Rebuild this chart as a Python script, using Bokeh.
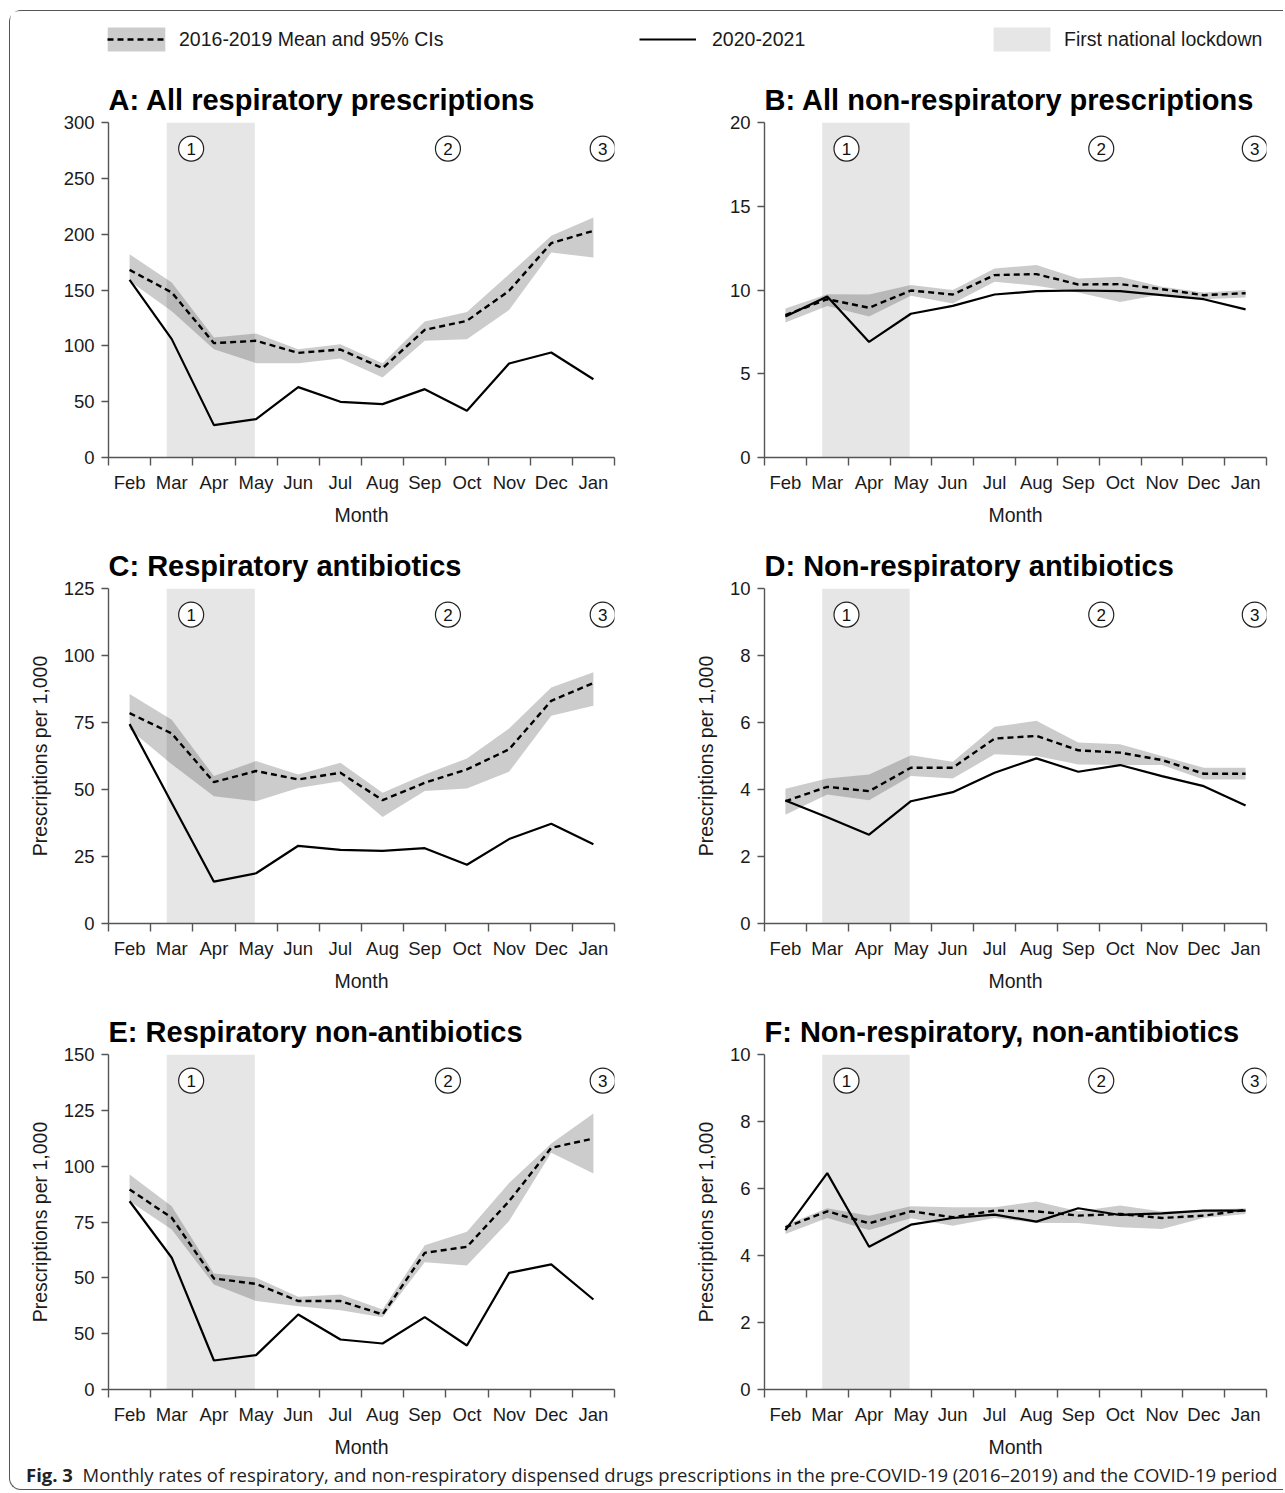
from bokeh.plotting import figure
from bokeh.models import Range1d, FixedTicker, BoxAnnotation, Legend, LegendItem, Div
from bokeh.layouts import column, row
from bokeh.embed import file_html
from bokeh.resources import INLINE
from bokeh.core.properties import value

# ---------------- data ----------------
months = ["Feb", "Mar", "Apr", "May", "Jun", "Jul", "Aug", "Sep", "Oct", "Nov", "Dec", "Jan"]
month_idx = list(range(len(months)))

lockdown_start = 0.88
lockdown_end = 2.97
event_x = [1.46, 7.55, 11.22]
event_labels = ["1", "2", "3"]

# A: All respiratory prescriptions
a_obs = [159, 106, 29, 34.3, 63, 49.9, 47.8, 61.2, 41.8, 84.2, 94, 70.1]
a_mean = [168, 147.8, 102.4, 104.5, 93.7, 96.7, 80, 114.3, 122.4, 149.3, 192, 203]
a_lo = [158, 131, 97, 84.5, 84.5, 88.7, 71.6, 104.5, 106, 132, 183.6, 179]
a_hi = [182, 156.7, 107.5, 111, 97, 101.5, 84.5, 121.8, 130.4, 164, 198.5, 215]
a_ticks = [0, 50, 100, 150, 200, 250, 300]
a_tick_labels = ["0", "50", "100", "150", "200", "250", "300"]

# B: All non-respiratory prescriptions
b_obs = [8.42, 9.61, 6.9, 8.58, 9.05, 9.73, 9.93, 9.97, 9.93, 9.69, 9.45, 8.84]
b_mean = [8.5, 9.45, 8.94, 9.97, 9.73, 10.89, 10.95, 10.33, 10.35, 10.05, 9.69, 9.81]
b_lo = [8.06, 9.05, 8.42, 9.65, 9.2, 10.5, 10.25, 9.85, 9.29, 9.75, 9.45, 9.55]
b_hi = [8.9, 9.75, 9.73, 10.3, 10.0, 11.28, 11.5, 10.69, 10.79, 10.2, 9.85, 10.0]
b_ticks = [0, 5, 10, 15, 20]
b_tick_labels = ["0", "5", "10", "15", "20"]

# C: Respiratory antibiotics
c_obs = [74.4, 45, 15.6, 18.75, 29, 27.5, 27.1, 28.1, 21.9, 31.5, 37.25, 29.6]
c_mean = [78.5, 70.9, 52.75, 56.9, 53.75, 56.25, 46, 52.5, 57.5, 65, 83.1, 89.75]
c_lo = [72.5, 59.4, 47.5, 45.6, 50.6, 53.1, 39.75, 49.4, 50.4, 56.6, 77.5, 81.25]
c_hi = [85.6, 76, 55, 60.6, 55.6, 60, 48.75, 55.6, 61.6, 72.75, 88.1, 93.75]
c_ticks = [0, 25, 50, 75, 100, 125]
c_tick_labels = ["0", "25", "50", "75", "100", "125"]

# D: Non-respiratory antibiotics
d_obs = [3.67, 3.17, 2.65, 3.65, 3.92, 4.5, 4.93, 4.53, 4.73, 4.4, 4.1, 3.52]
d_mean = [3.65, 4.08, 3.95, 4.65, 4.65, 5.52, 5.6, 5.17, 5.1, 4.88, 4.47, 4.47]
d_lo = [3.25, 3.85, 3.68, 4.4, 4.33, 5.05, 5.0, 4.75, 4.73, 4.73, 4.3, 4.3]
d_hi = [4.02, 4.33, 4.45, 5.02, 4.83, 5.87, 6.05, 5.4, 5.35, 5.0, 4.65, 4.65]
d_ticks = [0, 2, 4, 6, 8, 10]
d_tick_labels = ["0", "2", "4", "6", "8", "10"]

# E: Respiratory non-antibiotics
e_obs = [84.3, 59, 13, 15.4, 33.6, 22.4, 20.6, 32.4, 19.7, 52.2, 56, 40.3]
e_mean = [89.6, 76.9, 49.7, 47.3, 39.6, 39.6, 33.6, 61.2, 63.9, 84.3, 108.2, 112.4]
e_lo = [84.3, 71.6, 47.0, 39.6, 37.3, 35.5, 32.4, 57.0, 55.5, 75.4, 106.0, 96.7]
e_hi = [96.3, 82.1, 51.9, 50.0, 41.5, 42.5, 35.8, 64.6, 70.6, 92.5, 110.1, 123.6]
e_ticks = [0, 25, 50, 75, 100, 125, 150]
e_tick_labels = ["0", "50", "50", "75", "100", "125", "150"]

# F: Non-respiratory, non-antibiotics
f_obs = [4.76, 6.46, 4.26, 4.92, 5.12, 5.22, 5.01, 5.41, 5.21, 5.26, 5.34, 5.34]
f_mean = [4.84, 5.32, 4.96, 5.32, 5.14, 5.34, 5.32, 5.19, 5.24, 5.12, 5.19, 5.36]
f_lo = [4.64, 5.12, 4.76, 5.11, 4.89, 5.12, 4.97, 4.97, 4.84, 4.79, 5.12, 5.24]
f_hi = [4.91, 5.41, 5.19, 5.47, 5.44, 5.44, 5.61, 5.32, 5.49, 5.31, 5.36, 5.41]
f_ticks = [0, 2, 4, 6, 8, 10]
f_tick_labels = ["0", "2", "4", "6", "8", "10"]

legend_labels = ["2016-2019 Mean and 95% CIs", "2020-2021", "First national lockdown"]
y_title = "Prescriptions per 1,000"
x_title = "Month"
caption_bold = "Fig. 3"
caption_text = ("Monthly rates of respiratory, and non-respiratory dispensed drugs prescriptions "
                "in the pre-COVID-19 (2016\u20132019) and the COVID-19 period")

# ---------------- styles ----------------
FONT = "Liberation Sans"
BAND_COLOR = "#000000"
BAND_ALPHA = 0.2
LOCK_COLOR = "#e6e6e6"
AXIS_COLOR = "#555555"
TEXT_COLOR = "#1a1a1a"
DASH = "6 4"
NAN = float("nan")


def make_panel(title, obs, mean, lo, hi, ticks, tick_labels, ylabel, left, last_row):
    ymax = ticks[-1]
    width = 630 if left else 643
    mb_left = 98 if left else 124
    mb_right = 26 if left else 17
    mb_bottom = 72 if last_row else 74
    height = 57 + 335 + mb_bottom
    p = figure(width=width, height=height, x_range=Range1d(-0.5, len(months) - 0.5),
               y_range=Range1d(0, ymax), output_backend="svg", toolbar_location=None,
               min_border_left=mb_left, min_border_right=mb_right,
               min_border_top=57, min_border_bottom=mb_bottom)
    p.grid.visible = False
    p.outline_line_color = None
    p.background_fill_color = "white"
    p.border_fill_color = "white"

    p.title.text = title
    p.title.text_font = FONT
    p.title.text_font_style = "bold"
    p.title.text_font_size = "29px"
    p.title.text_color = "#000000"
    p.title.align = "left"
    p.title.offset = 0
    p.title.standoff = 14

    p.add_layout(BoxAnnotation(left=lockdown_start, right=lockdown_end, fill_color=LOCK_COLOR,
                               fill_alpha=1.0, line_color=None, level="underlay"))
    p.varea(x=month_idx, y1=lo, y2=hi, fill_color=BAND_COLOR, fill_alpha=BAND_ALPHA)
    p.line(month_idx, mean, line_color="black", line_width=2.4, line_dash=DASH)
    p.line(month_idx, obs, line_color="black", line_width=2.2)

    ey = [ymax * 0.922] * len(event_x)
    p.scatter(event_x, ey, marker="circle", size=25, fill_color="white", line_color="#222222",
              line_width=1.2)
    p.text(event_x, ey, text=event_labels, text_align="center", text_baseline="middle",
           text_font=value(FONT), text_font_size="17px", text_color="#111111")

    xa = p.xaxis[0]
    xa.ticker = FixedTicker(ticks=month_idx, minor_ticks=[i - 0.5 for i in range(len(months) + 1)])
    xa.major_label_overrides = {i: m for i, m in enumerate(months)}
    xa.major_tick_out = 0
    xa.major_tick_in = 0
    xa.minor_tick_out = 8
    xa.minor_tick_in = 0
    xa.major_label_standoff = 6
    xa.axis_label = x_title
    xa.axis_label_standoff = 8

    ya = p.yaxis[0]
    ya.ticker = FixedTicker(ticks=ticks, minor_ticks=[])
    ya.major_label_overrides = {t: l for t, l in zip(ticks, tick_labels)}
    ya.major_tick_out = 7
    ya.major_tick_in = 0
    ya.minor_tick_out = 0
    ya.minor_tick_in = 0
    ya.major_label_standoff = 7
    if ylabel:
        ya.axis_label = y_title
        ya.axis_label_standoff = 10

    for ax in (xa, ya):
        ax.axis_line_color = AXIS_COLOR
        ax.axis_line_width = 1.4
        ax.major_tick_line_color = AXIS_COLOR
        ax.major_tick_line_width = 1.4
        ax.minor_tick_line_color = AXIS_COLOR
        ax.minor_tick_line_width = 1.4
        ax.major_label_text_font = FONT
        ax.major_label_text_font_size = "18.5px"
        ax.major_label_text_color = TEXT_COLOR
        ax.axis_label_text_font = FONT
        ax.axis_label_text_font_size = "19.5px"
        ax.axis_label_text_font_style = "normal"
        ax.axis_label_text_color = TEXT_COLOR
    return p


pA = make_panel("A: All respiratory prescriptions", a_obs, a_mean, a_lo, a_hi, a_ticks, a_tick_labels, False, True, False)
pB = make_panel("B: All non-respiratory prescriptions", b_obs, b_mean, b_lo, b_hi, b_ticks, b_tick_labels, False, False, False)
pC = make_panel("C: Respiratory antibiotics", c_obs, c_mean, c_lo, c_hi, c_ticks, c_tick_labels, True, True, False)
pD = make_panel("D: Non-respiratory antibiotics", d_obs, d_mean, d_lo, d_hi, d_ticks, d_tick_labels, True, False, False)
pE = make_panel("E: Respiratory non-antibiotics", e_obs, e_mean, e_lo, e_hi, e_ticks, e_tick_labels, True, True, True)
pF = make_panel("F: Non-respiratory, non-antibiotics", f_obs, f_mean, f_lo, f_hi, f_ticks, f_tick_labels, True, False, True)

# ---------------- legend strip ----------------
lf = figure(width=1273, height=54, x_range=Range1d(0, 1), y_range=Range1d(0, 1),
            output_backend="svg", toolbar_location=None, min_border=0,
            x_axis_location=None, y_axis_location=None)
lf.grid.visible = False
lf.outline_line_color = None
# legend-only renderers (no visible data)
band_r = lf.varea(x=[NAN], y1=[NAN], y2=[NAN], fill_color=BAND_COLOR, fill_alpha=BAND_ALPHA)
mean_r = lf.line(x=[NAN], y=[NAN], line_color="black", line_width=2.4, line_dash=DASH)
obs_r = lf.line(x=[NAN], y=[NAN], line_color="black", line_width=2.2)
lock_r = lf.varea(x=[NAN], y1=[NAN], y2=[NAN], fill_color=LOCK_COLOR, fill_alpha=1.0)


def add_legend(items, loc, gw, gh, standoff):
    lg = Legend(items=items, location=loc, glyph_width=gw, glyph_height=gh,
                label_standoff=standoff, padding=0, margin=0, spacing=0,
                border_line_alpha=0, background_fill_alpha=0,
                label_text_font=FONT, label_text_font_size="19.5px",
                label_text_color=TEXT_COLOR)
    lf.add_layout(lg)


add_legend([LegendItem(label="", renderers=[band_r])], (90, 11), 72, 30, 0)
add_legend([LegendItem(label=legend_labels[0], renderers=[mean_r])], (97, 14), 58, 24, 14)
add_legend([LegendItem(label=legend_labels[1], renderers=[obs_r])], (629, 14), 57, 24, 16)
add_legend([LegendItem(label=legend_labels[2], renderers=[lock_r])], (976, 11), 71, 30, 7)

caption = Div(
    text=('<div style="font-family:\'Open Sans\', sans-serif; font-size:18.5px; color:#222; white-space:nowrap; '
          'padding-left:16px; line-height:27px;"><b>%s</b>&nbsp;&nbsp;%s</div>' % (caption_bold, caption_text)),
    width=1273, height=28, margin=0)

layout = column(lf, row(pA, pB), row(pC, pD), row(pE, pF), caption,
                margin=(10, 0, 0, 9),
                styles={"border-left": "1.5px solid #555", "border-top": "1.5px solid #555",
                        "border-bottom": "1.5px solid #555",
                        "border-radius": "12px 0 0 12px"})

open("out.html", "w").write(file_html(layout, INLINE))
